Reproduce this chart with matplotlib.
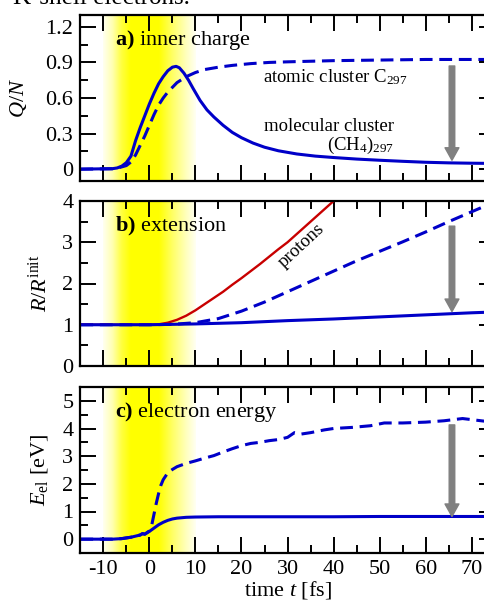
import numpy as np
import matplotlib
matplotlib.use("Agg")
import matplotlib.pyplot as plt
from matplotlib.colors import LinearSegmentedColormap
from matplotlib.ticker import MultipleLocator

plt.rcParams['font.family'] = ['Liberation Serif', 'DejaVu Serif']
plt.rcParams['mathtext.fontset'] = 'custom'
plt.rcParams['mathtext.rm'] = 'Liberation Serif'
plt.rcParams['mathtext.it'] = 'Liberation Serif:italic'
plt.rcParams['mathtext.bf'] = 'Liberation Serif:bold'
plt.rcParams['axes.unicode_minus'] = False

# ---- data ----
# a) inner charge Q/N
qa_mol_t = [-15, -8, -7, -6, -5, -4, -3, -2, -1, 0, 1, 2, 3, 4, 5, 5.8, 6.5, 7.5, 8.5, 9.5,
            11, 12.5, 14, 16, 18, 20, 22.5, 25, 28, 32, 36, 40, 45, 50, 55, 60, 65, 70, 75]
qa_mol_q = [0, 0.004, 0.01, 0.025, 0.055, 0.11, 0.24, 0.35, 0.45, 0.55, 0.64, 0.72, 0.78, 0.83,
            0.86, 0.867, 0.855, 0.81, 0.75, 0.68, 0.58, 0.50, 0.44, 0.37, 0.31, 0.265, 0.22,
            0.185, 0.155, 0.128, 0.11, 0.098, 0.085, 0.075, 0.066, 0.058, 0.053, 0.05, 0.048]
qa_atom_t = [-15, -8, -7, -5, -4, -3, -2, -1, 0, 1, 2, 3, 4, 5, 6, 8, 10, 12, 15, 18, 22, 26,
             30, 40, 50, 60, 75]
qa_atom_q = [0, 0.003, 0.008, 0.03, 0.06, 0.12, 0.2, 0.28, 0.37, 0.46, 0.54, 0.6, 0.65, 0.69,
             0.73, 0.78, 0.815, 0.84, 0.86, 0.875, 0.89, 0.9, 0.905, 0.915, 0.92, 0.925, 0.925]

# b) extension R/R_init
rb_mol_t = [-15, 0, 10, 20, 30, 40, 50, 60, 70, 75]
rb_mol_r = [1.0, 1.0, 1.02, 1.05, 1.1, 1.14, 1.19, 1.24, 1.29, 1.31]
rb_prot_t = [-15, 0, 2, 4, 6, 8, 10, 12, 14, 16, 18, 20, 22, 24, 26, 28, 30, 32, 34, 36, 38, 40, 42]
rb_prot_r = [1.0, 1.0, 1.01, 1.05, 1.12, 1.22, 1.35, 1.5, 1.65, 1.8, 1.97, 2.13, 2.3, 2.47,
             2.65, 2.83, 3.0, 3.2, 3.4, 3.6, 3.8, 4.0, 4.2]
rb_atom_t = [-15, 0, 5, 10, 15, 20, 25, 30, 35, 40, 45, 50, 55, 60, 65, 70, 75]
rb_atom_r = [1.0, 1.0, 1.01, 1.05, 1.15, 1.33, 1.55, 1.8, 2.05, 2.3, 2.55, 2.78, 3.01, 3.25,
             3.5, 3.74, 3.98]

# c) electron energy E_el [eV]
ec_mol_t = [-15, -8, -6, -4, -2, -1.5, -1, 0, 1, 2, 3, 4, 5, 6, 8, 10, 15, 20, 30, 40, 50, 60, 70, 75]
ec_mol_e = [0, 0, 0.02, 0.07, 0.15, 0.2, 0.18, 0.28, 0.4, 0.52, 0.61, 0.68, 0.73, 0.76, 0.79,
            0.8, 0.81, 0.81, 0.81, 0.81, 0.82, 0.82, 0.82, 0.82]
ec_atom_t = [-15, -8, -6, -4, -2, -1.5, -1, 0, 0.5, 1, 1.5, 2, 2.5, 3, 4, 5, 6, 8, 10, 12, 14,
             16, 18, 20, 22, 24, 26, 28, 30, 31.5, 33, 35, 38, 40, 44, 48, 51, 55, 60, 64, 68, 71, 75]
ec_atom_e = [0, 0, 0.02, 0.07, 0.15, 0.2, 0.18, 0.3, 0.5, 0.9, 1.3, 1.65, 1.95, 2.15, 2.4, 2.52,
             2.62, 2.74, 2.83, 2.93, 3.02, 3.15, 3.27, 3.38, 3.46, 3.5, 3.56, 3.6, 3.68, 3.85,
             3.8, 3.85, 3.95, 4.0, 4.04, 4.1, 4.2, 4.2, 4.23, 4.28, 4.36, 4.3, 4.22]

arrow_t = 65.7
arrow_a = (0.87, 0.075)
arrow_b = (3.39, 1.32)
arrow_c = (4.13, 0.82)

BLUE = '#0000c8'
RED = '#c80000'
GRAY = '#808080'

fig = plt.figure(figsize=(4.84, 6.03), dpi=100)
W, H = 484.0, 603.0
left = 80.3 / W
width = (494.8 - 80.3) / W


def make_axes(top_px, bot_px):
    return fig.add_axes([left, 1 - bot_px / H, width, (bot_px - top_px) / H])


ax_a = make_axes(15, 181)
ax_b = make_axes(201, 366)
ax_c = make_axes(387, 553)

# yellow pulse band: pale edges, bright middle
band_cmap = LinearSegmentedColormap.from_list('band', ['#ffffff', '#ffff00'])
band_x = np.linspace(-10, 10, 400)
band_v = np.interp(band_x, [-10, -8, -6, -4, 2, 5, 8, 10], [0.06, 0.3, 0.75, 1, 1, 0.6, 0.25, 0.05])

for ax, ylim, major, minor in [(ax_a, (-0.1, 1.3), 0.3, 0.15),
                               (ax_b, (0, 4), 1, 0.5),
                               (ax_c, (-0.5, 5.5), 1, 0.5)]:
    ax.imshow(band_v[None, :], extent=[-10, 10, ylim[0], ylim[1]], aspect='auto',
              cmap=band_cmap, vmin=0, vmax=1, zorder=0, interpolation='bilinear')
    ax.set_xlim(-15, 75)
    ax.set_ylim(*ylim)
    ax.xaxis.set_major_locator(MultipleLocator(10))
    ax.xaxis.set_minor_locator(MultipleLocator(5))
    ax.yaxis.set_major_locator(MultipleLocator(major))
    ax.yaxis.set_minor_locator(MultipleLocator(minor))
    ax.tick_params(which='both', direction='in', top=True, right=True, width=1.4,
                   labelsize=16, pad=5)
    ax.tick_params(which='major', length=11.5)
    ax.tick_params(which='minor', length=5.8)
    for s in ax.spines.values():
        s.set_linewidth(1.6)

ax_a.set_yticks([0, 0.3, 0.6, 0.9, 1.2])
ax_a.set_yticklabels(['0', '0.3', '0.6', '0.9', '1.2'])
ax_a.tick_params(labelbottom=False)
ax_b.tick_params(labelbottom=False)
ax_c.set_xticks([-10, 0, 10, 20, 30, 40, 50, 60, 70])

dash = (4.2, 2.2)
lw = 2.2

# panel a
ax_a.plot(qa_atom_t, qa_atom_q, color=BLUE, lw=lw, dashes=dash)
ax_a.plot(qa_mol_t, qa_mol_q, color=BLUE, lw=lw)
ax_a.text(0.084, 0.819, r'$\mathbf{a)}$ inner charge', transform=ax_a.transAxes,
          fontsize=16, va='baseline')
ax_a.text(24.7, 0.736, r'atomic cluster C$_{297}$', fontsize=13.5, va='baseline')
ax_a.text(24.9, 0.323, 'molecular cluster', fontsize=13.5, va='baseline')
ax_a.text(53.1, 0.16, r'(CH$_4$)$_{297}$', fontsize=13.5, va='baseline', ha='right')
ax_a.set_ylabel(r'$Q/N$', fontsize=16)
ax_a.yaxis.set_label_coords(-0.124, 0.5)

# panel b
ax_b.plot(rb_atom_t, rb_atom_r, color=BLUE, lw=lw, dashes=dash)
ax_b.plot(rb_prot_t, rb_prot_r, color=RED, lw=1.7)
ax_b.plot(rb_mol_t, rb_mol_r, color=BLUE, lw=lw)
ax_b.text(0.084, 0.814, r'$\mathbf{b)}$ extension', transform=ax_b.transAxes,
          fontsize=16, va='baseline')
ax_b.text(33.1, 2.91, 'protons', fontsize=13.5, rotation=43, ha='center', va='center',
          rotation_mode='anchor')
ax_b.set_ylabel(r'$R/R^{\mathrm{init}}$', fontsize=16)
ax_b.yaxis.set_label_coords(-0.068, 0.5)

# panel c
ax_c.plot(ec_atom_t, ec_atom_e, color=BLUE, lw=lw, dashes=dash)
ax_c.plot(ec_mol_t, ec_mol_e, color=BLUE, lw=lw)
ax_c.text(0.084, 0.819, r'$\mathbf{c)}$ electron energy', transform=ax_c.transAxes,
          fontsize=16, va='baseline')
ax_c.set_ylabel(r'$E_{\mathrm{el}}$ [eV]', fontsize=16)
ax_c.yaxis.set_label_coords(-0.073, 0.5)
ax_c.set_xlabel(r'time $t$ [fs]', fontsize=16, labelpad=0)

for ax, (y0, y1) in [(ax_a, arrow_a), (ax_b, arrow_b), (ax_c, arrow_c)]:
    ax.annotate('', xy=(arrow_t, y1), xytext=(arrow_t, y0),
                arrowprops=dict(arrowstyle='simple,head_length=0.45,head_width=0.5,tail_width=0.2',
                                color=GRAY, shrinkA=0, shrinkB=0, mutation_scale=20))

# remnant of the surrounding page text, cut by the top edge
fig.text(13 / W, 1 - 4 / H, 'K-shell electrons.', fontsize=18, va='baseline')

fig.savefig('out.png', dpi=100)
